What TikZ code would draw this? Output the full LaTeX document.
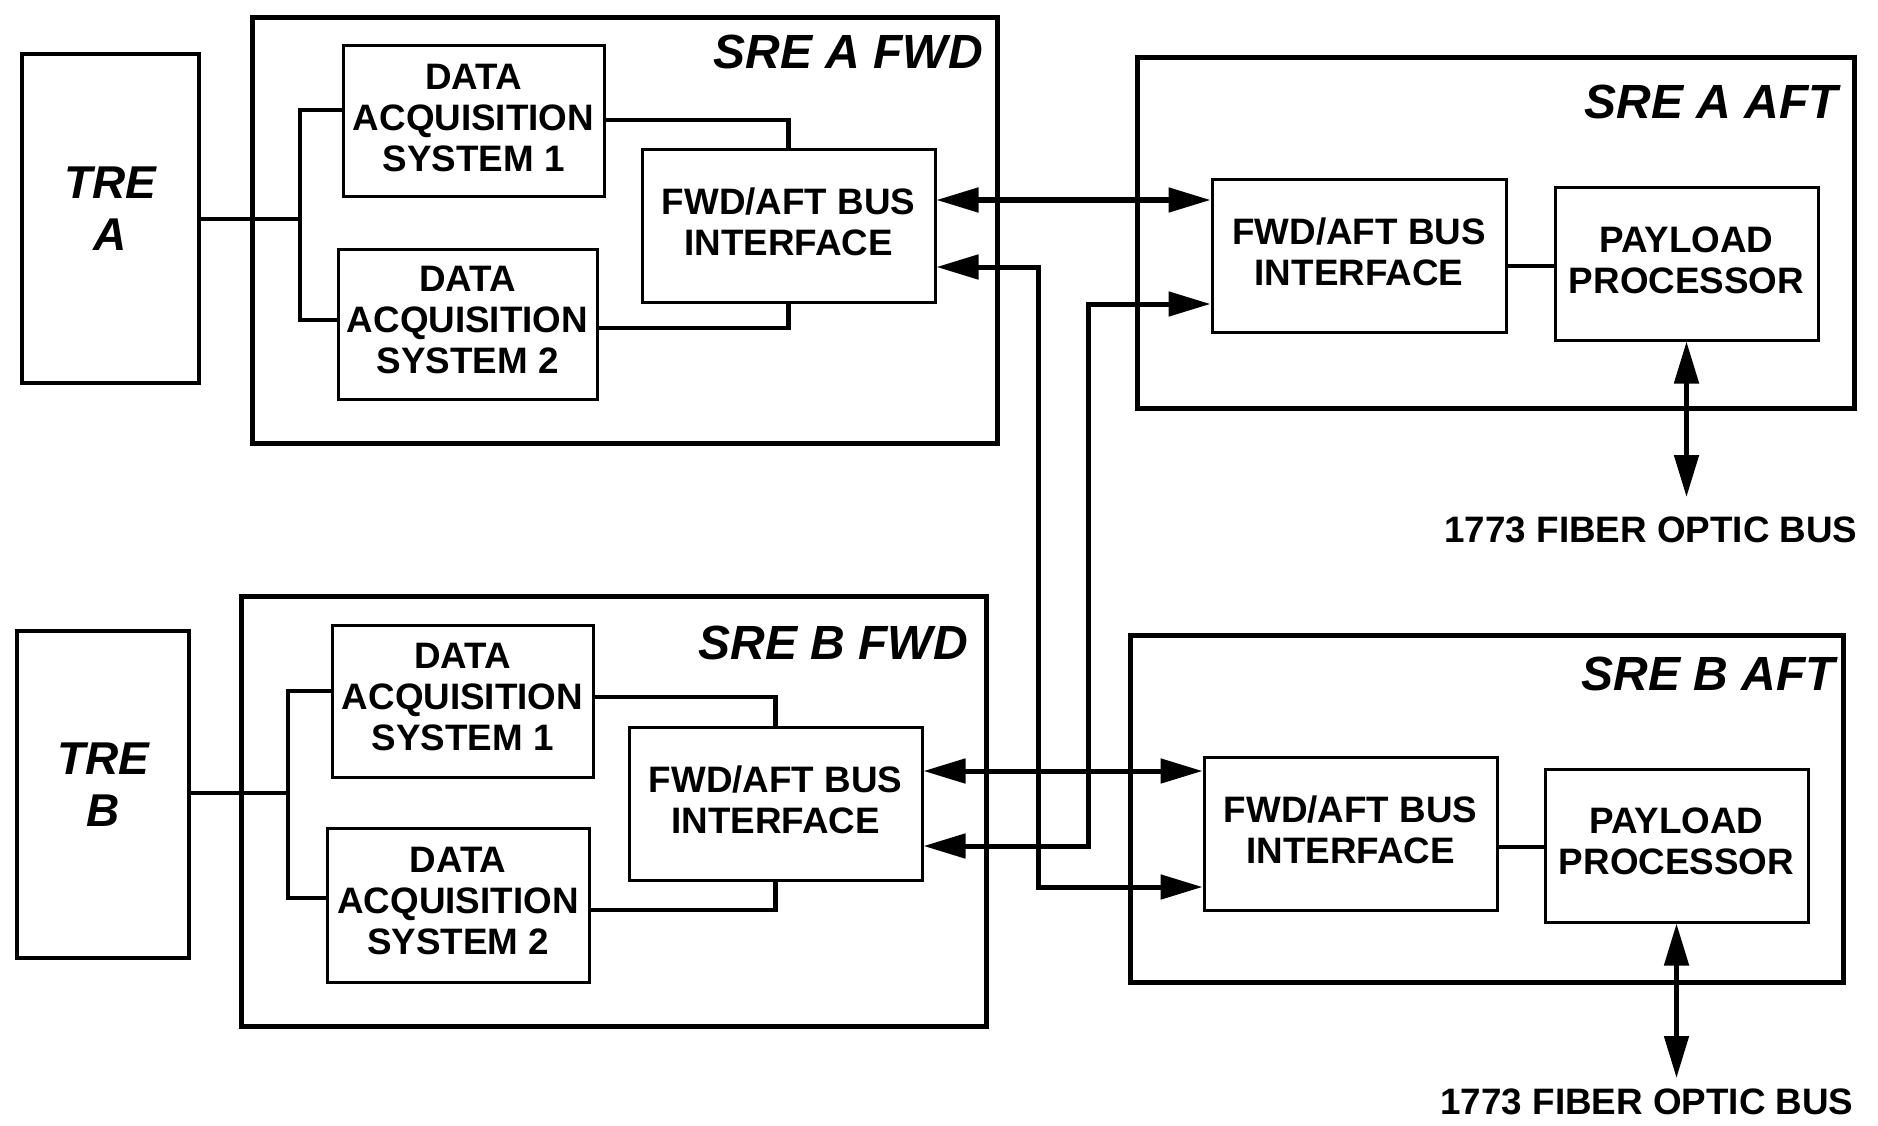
\documentclass[tikz,border=0pt]{standalone}
\usepackage{fontspec}
\setmainfont{Liberation Sans}
\usetikzlibrary{arrows.meta}
\begin{document}
\begin{tikzpicture}[x=1pt,y=-1pt,
  srebox/.style={draw, line width=5pt, rectangle, inner sep=0pt},
  tre/.style={draw, line width=4.5pt, inner sep=0pt, align=center, text depth=20pt, font=\fontsize{46}{52}\selectfont\bfseries\itshape},
  blk/.style={draw, line width=3pt, inner sep=0pt, align=center, text depth=8pt, font=\fontsize{36.8}{41}\selectfont\bfseries},
  ttl/.style={anchor=east, inner sep=0pt, font=\fontsize{48}{56}\selectfont\bfseries\itshape},
  lbl/.style={inner sep=0pt, font=\fontsize{36.8}{41}\selectfont\bfseries},
  conn/.style={line width=4.5pt},
  bi/.style={line width=5pt, {Triangle[length=42pt,width=24pt]}-{Triangle[length=42pt,width=24pt]}},
]
\fill[white] (0,0) rectangle (1878,1126);
\useasboundingbox (0,0) rectangle (1878,1126);

% ---------- A side ----------
\node[srebox, minimum width=745pt, minimum height=425pt] (sreAF) at (624.5,230.5) {};
\node[ttl] (tAF) at (983,52) {SRE A FWD};
\node[tre, minimum width=177pt, minimum height=329pt] (treA) at (110.5,218.5) {TRE\\A};
\node[blk, minimum width=261pt, minimum height=151pt] (dasA1) at (473.5,121.5) {DATA\\ACQUISITION\\SYSTEM 1};
\node[blk, minimum width=259pt, minimum height=150pt] (dasA2) at (467.5,324) {DATA\\ACQUISITION\\SYSTEM 2};
\node[blk, minimum width=293pt, minimum height=152pt] (ifAF) at (788.5,226) {FWD/AFT BUS\\INTERFACE};

\node[srebox, minimum width=717pt, minimum height=350pt] (sreAA) at (1495.5,233) {};
\node[ttl] (tAA) at (1838,102) {SRE A AFT};
\node[blk, minimum width=294pt, minimum height=152pt] (ifAA) at (1359,256) {FWD/AFT BUS\\INTERFACE};
\node[blk, minimum width=263pt, minimum height=152pt] (ppA) at (1686.5,264) {PAYLOAD\\PROCESSOR};
\node[lbl] (busA) at (1651,530) {1773 FIBER OPTIC BUS};
\coordinate (tipA) at (1686.5,497);

% ---------- B side ----------
\node[srebox, minimum width=745pt, minimum height=430pt] (sreBF) at (613.5,811) {};
\node[ttl] (tBF) at (968,643) {SRE B FWD};
\node[tre, minimum width=172pt, minimum height=327pt] (treB) at (103,794.5) {TRE\\B};
\node[blk, minimum width=261pt, minimum height=152pt] (dasB1) at (462.5,701) {DATA\\ACQUISITION\\SYSTEM 1};
\node[blk, minimum width=262pt, minimum height=154pt] (dasB2) at (458,905) {DATA\\ACQUISITION\\SYSTEM 2};
\node[blk, minimum width=293pt, minimum height=153pt] (ifBF) at (775.5,803.5) {FWD/AFT BUS\\INTERFACE};

\node[srebox, minimum width=713pt, minimum height=347pt] (sreBA) at (1486.5,808.5) {};
\node[ttl] (tBA) at (1835,674) {SRE B AFT};
\node[blk, minimum width=293pt, minimum height=153pt] (ifBA) at (1350.5,833.5) {FWD/AFT BUS\\INTERFACE};
\node[blk, minimum width=263pt, minimum height=153pt] (ppB) at (1676.5,845.5) {PAYLOAD\\PROCESSOR};
\node[lbl] (busB) at (1647,1102) {1773 FIBER OPTIC BUS};
\coordinate (tipB) at (1676.5,1078);

% ---------- junctions ----------
\coordinate (jA) at (300,219);
\coordinate (jB) at (288,793);
\coordinate (vL) at (1038,0);
\coordinate (vR) at (1088,0);

% ---------- connectors A ----------
\draw[conn] (treA.east |- jA) -- (jA);
\draw[conn] (dasA1.west |- 0,110) -| (jA) |- (dasA2.west |- 0,320);
\draw[conn] (dasA1.east |- 0,120) -| (ifAF.north);
\draw[conn] (dasA2.east |- 0,328) -| (ifAF.south);
\draw[conn] (ifAA.east |- 0,266) -- (ppA.west |- 0,266);
\draw[bi] (ppA.south) -- (tipA);

% ---------- connectors B ----------
\draw[conn] (treB.east |- jB) -- (jB);
\draw[conn] (dasB1.west |- 0,691) -| (jB) |- (dasB2.west |- 0,898);
\draw[conn] (dasB1.east |- 0,697) -| (ifBF.north);
\draw[conn] (dasB2.east |- 0,910) -| (ifBF.south);
\draw[conn] (ifBA.east |- 0,847) -- (ppB.west |- 0,847);
\draw[bi] (ppB.south) -- (tipB);

% ---------- FWD/AFT buses ----------
\draw[bi] (ifAF.east |- 0,200) -- (ifAA.west |- 0,200);
\draw[bi] (ifBF.east |- 0,771) -- (ifBA.west |- 0,771);
\draw[bi] (ifAF.east |- 0,267) -| (vL |- 0,887) -- (ifBA.west |- 0,887);
\draw[bi] (ifAA.west |- 0,304) -| (vR |- 0,846) -- (ifBF.east |- 0,846);
\end{tikzpicture}
\end{document}
